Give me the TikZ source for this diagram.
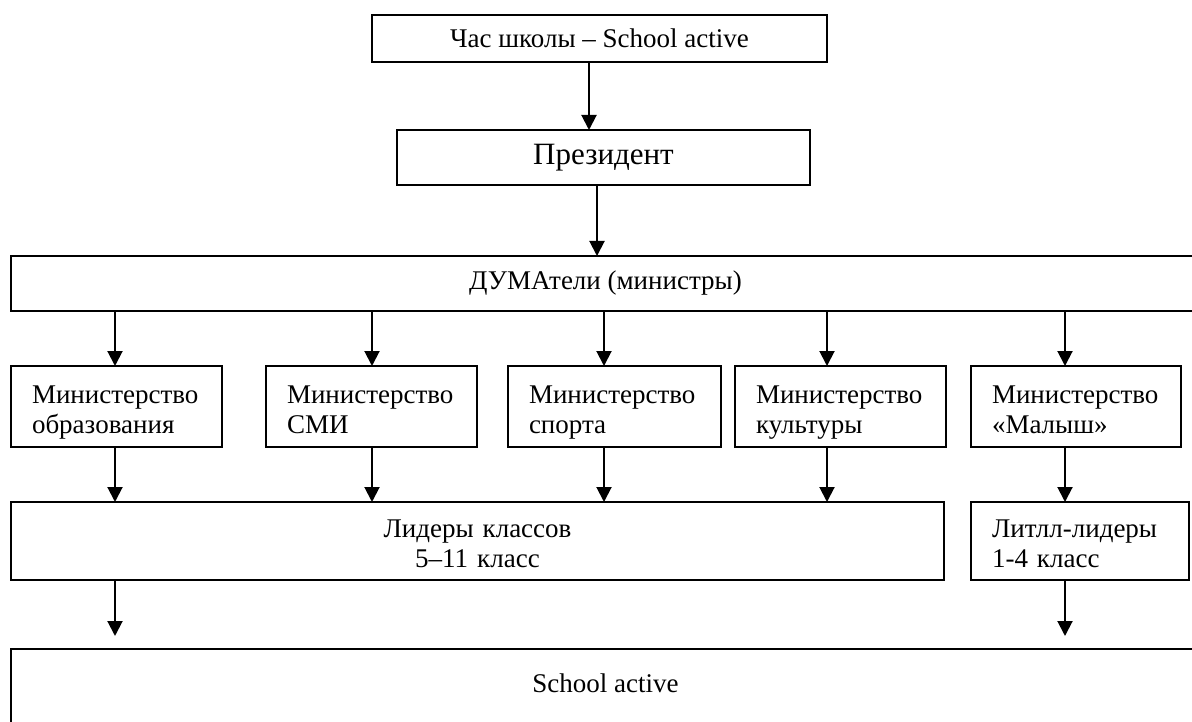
\documentclass[tikz,border=0pt]{standalone}
\usepackage{fontspec}
\setmainfont{Liberation Serif}
\usetikzlibrary{arrows.meta}
\begin{document}
\begin{tikzpicture}[x=1pt,y=-1pt,
  box/.style={draw,line width=1.4pt,inner sep=0pt,outer sep=0pt,font=\fontsize{27}{30}\selectfont},
  mbox/.style={box,minimum height=81pt,inner xsep=21pt,text width=#1,align=left,
    execute at begin node={\rule{0pt}{32pt}},execute at end node={\rule[-9pt]{0pt}{9pt}}},
  lbox/.style={box,minimum height=78pt,
    execute at begin node={\rule{0pt}{31pt}},execute at end node={\rule[-9pt]{0pt}{9pt}}},
  arr/.style={line width=2pt,-{Triangle[width=15pt,length=15pt]}}]
\useasboundingbox (0,0) rectangle (1192,722);
\clip (0,0) rectangle (1192,722);
% boxes
\node[box,minimum width=455pt,minimum height=47pt] (top) at (599.5,38.5) {Час школы – School active};
\node[box,minimum width=413pt,minimum height=55pt,font=\fontsize{31}{36}\selectfont] (pres) at (603.5,157.5) {Президент};
\node[box,minimum width=1189pt,minimum height=55pt] (duma) at (605.5,283.5) {ДУМАтели (министры)};
\node[mbox=169pt] (m1) at (116.5,406.5) {Министерство\\образования};
\node[mbox=169pt] (m2) at (371.5,406.5) {Министерство\\СМИ};
\node[mbox=171pt] (m3) at (614.5,406.5) {Министерство\\спорта};
\node[mbox=169pt] (m4) at (840.5,406.5) {Министерство\\культуры};
\node[mbox=168pt] (m5) at (1076,406.5) {Министерство\\«Малыш»};
\node[lbox,text width=933pt,align=center] (lead) at (477.5,541) {Лидеры классов\\5–11 класс};
\node[lbox,inner xsep=21pt,text width=176pt,align=left] (little) at (1080,541) {Литлл-лидеры\\1-4 класс};
\node[box,minimum width=1189pt,minimum height=131pt] (school) at (605.5,714.5) {};
\node[font=\fontsize{27}{30}\selectfont,inner sep=0pt] (schooltxt) at (605.5,683) {School active};
% arrow columns
\coordinate (xa) at (589,0);
\coordinate (xb) at (597,0);
\coordinate (x1) at (115,0);
\coordinate (x2) at (372,0);
\coordinate (x3) at (604,0);
\coordinate (x4) at (827,0);
\coordinate (x5) at (1065,0);
% arrows
\draw[arr] (top.south -| xa) -- (pres.north -| xa);
\draw[arr] (pres.south -| xb) -- (duma.north -| xb);
\draw[arr] (duma.south -| x1) -- (m1.north -| x1);
\draw[arr] (duma.south -| x2) -- (m2.north -| x2);
\draw[arr] (duma.south -| x3) -- (m3.north -| x3);
\draw[arr] (duma.south -| x4) -- (m4.north -| x4);
\draw[arr] (duma.south -| x5) -- (m5.north -| x5);
\draw[arr] (m1.south -| x1) -- (lead.north -| x1);
\draw[arr] (m2.south -| x2) -- (lead.north -| x2);
\draw[arr] (m3.south -| x3) -- (lead.north -| x3);
\draw[arr] (m4.south -| x4) -- (lead.north -| x4);
\draw[arr] (m5.south -| x5) -- (little.north -| x5);
\draw[arr] (lead.south -| x1) -- ([yshift=13pt]school.north -| x1);
\draw[arr] (little.south -| x5) -- ([yshift=13pt]school.north -| x5);
\end{tikzpicture}
\end{document}
